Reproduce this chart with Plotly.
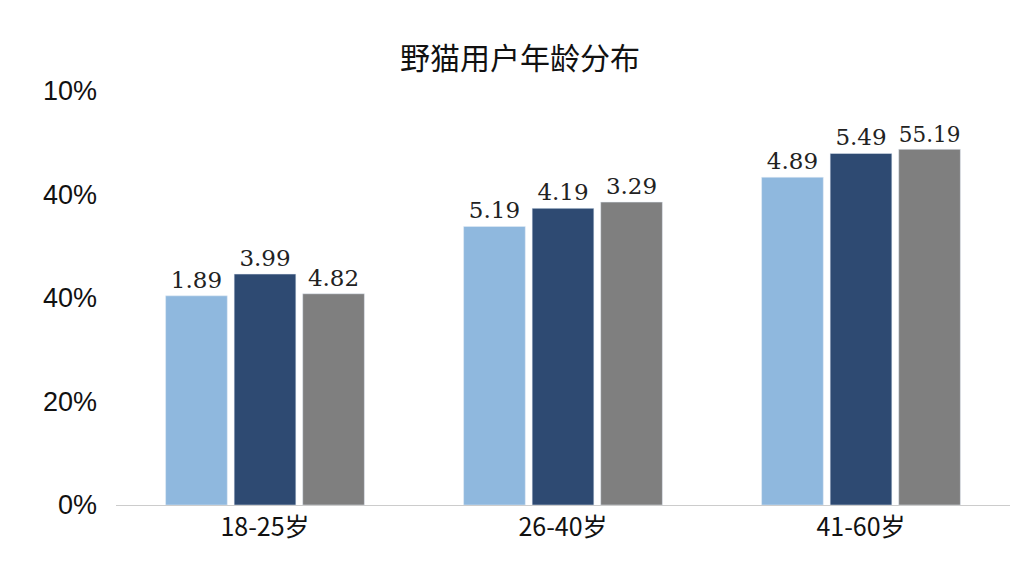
import plotly.graph_objects as go

categories = ["18-25岁", "26-40岁", "41-60岁"]
series_a = [40.4, 53.8, 63.3]
series_b = [44.6, 57.3, 67.9]
series_c = [40.8, 58.5, 68.7]
labels_a = ["1.89", "5.19", "4.89"]
labels_b = ["3.99", "4.19", "5.49"]
labels_c = ["4.82", "3.29", "55.19"]
tick_vals = [0, 20, 40, 60, 80]
tick_text = ["0%", "20%", "40%", "40%", "10%"]

fig = go.Figure()
for vals, labs, col in [(series_a, labels_a, "#8fb8de"), (series_b, labels_b, "#2e4a72"), (series_c, labels_c, "#7f7f7f")]:
    fig.add_trace(go.Bar(x=categories, y=vals, text=labs, textposition="outside",
                         marker_color=col, cliponaxis=False,
                         textfont=dict(family="DejaVu Serif", size=23, color="#222")))

fig.update_layout(
    width=1024, height=576, showlegend=False, plot_bgcolor="white", paper_bgcolor="white",
    title=dict(text="野猫用户年龄分布", x=0.5, y=0.93, xanchor="center",
               font=dict(family="Noto Sans CJK SC", size=30, color="#111")),
    margin=dict(l=108, r=22, t=74, b=79),
    bargap=0.31, bargroupgap=0.1,
    font=dict(family="Liberation Sans", size=22, color="#111"),
)
fig.update_yaxes(range=[0, 81.7], tickvals=tick_vals, ticktext=tick_text, showgrid=False,
                 zeroline=False, tickfont=dict(size=27), ticklabelstandoff=18)
fig.update_xaxes(showline=True, linecolor="#ccc", tickfont=dict(family="Noto Sans CJK SC", size=25))
fig.write_html("out.html")
